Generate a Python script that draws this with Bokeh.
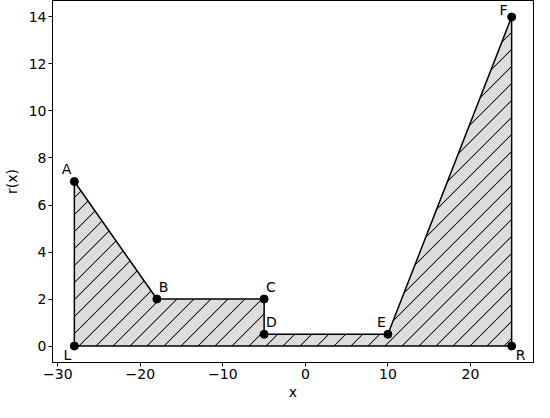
import base64, struct, zlib
from bokeh.plotting import figure
from bokeh.embed import file_html
from bokeh.resources import INLINE
from bokeh.models import Range1d, FixedTicker, ColumnDataSource, ImageURLTexture
from bokeh.core.properties import value

names = ["L", "A", "B", "C", "D", "E", "F", "R"]
xs = [-28, -28, -18, -5, -5, 10, 25, 25]
ys = [0, 7, 2, 2, 0.5, 0.5, 14, 0]
# label placement: (x_offset px, y_offset px, align, baseline)
lab_dx = [-3, -3, 2, 2, 2, -2, -4, 4]
lab_dy = [1, -5, -4, -4, -4, -4, 1, 1]
lab_align = ["right", "right", "left", "left", "left", "right", "right", "left"]
lab_base = ["top", "bottom", "bottom", "bottom", "bottom", "bottom", "bottom", "top"]

x_ticks = [-30, -20, -10, 0, 10, 20]
y_ticks = [0, 2, 4, 6, 8, 10, 12, 14]

FONT = "DejaVu Sans"


def hatch_tile_png(n):
    """45-degree '/' hatch tile as a transparent PNG data URL."""
    rows = []
    for y in range(n):
        row = bytearray([0])
        for x in range(n):
            d = (x + y - (n - 1)) % n
            if d == 0:
                a = 230
            elif d in (1, n - 1):
                a = 40
            else:
                a = 0
            row += bytes([0, 0, 0, a])
        rows.append(bytes(row))
    raw = b"".join(rows)

    def chunk(tag, data):
        c = struct.pack(">I", len(data)) + tag + data
        return c + struct.pack(">I", zlib.crc32(tag + data) & 0xffffffff)

    png = b"\x89PNG\r\n\x1a\n"
    png += chunk(b"IHDR", struct.pack(">IIBBBBB", n, n, 8, 6, 0, 0, 0))
    png += chunk(b"IDAT", zlib.compress(raw))
    png += chunk(b"IEND", b"")
    return "data:image/png;base64," + base64.b64encode(png).decode()


p = figure(width=534, height=402, output_backend="svg", toolbar_location=None,
           x_range=Range1d(-30.65, 27.65), y_range=Range1d(-0.7, 14.7),
           min_border_left=44, min_border_right=1, min_border_top=0, min_border_bottom=0)
p.xgrid.visible = False
p.ygrid.visible = False
p.outline_line_color = "black"
p.outline_line_width = 1
p.background_fill_color = "white"
p.border_fill_color = "white"

for ax in (p.xaxis[0], p.yaxis[0]):
    ax.major_label_text_font = FONT
    ax.major_label_text_font_size = "14px"
    ax.major_label_text_color = "black"
    ax.major_label_standoff = 2
    ax.axis_label_text_font = FONT
    ax.axis_label_text_font_size = "14px"
    ax.axis_label_text_font_style = "normal"
    ax.axis_label_text_color = "black"
    ax.axis_label_standoff = 2
    ax.minor_tick_line_color = None
    ax.major_tick_out = 4
    ax.major_tick_in = 0
    ax.major_tick_line_color = "black"
    ax.axis_line_color = "black"
p.yaxis.axis_label_standoff = 6
p.xaxis.ticker = FixedTicker(ticks=x_ticks)
p.yaxis.ticker = FixedTicker(ticks=y_ticks)
p.xaxis.axis_label = "x"
p.yaxis.axis_label = "r(x)"
p.xaxis.major_label_overrides = {t: ("\u2212" + str(-t) if t < 0 else str(t)) for t in x_ticks}

diag = ImageURLTexture(url=hatch_tile_png(17))

p.patch(xs, ys, fill_color="#dddddd", line_color="black", line_width=1.5,
        hatch_pattern="diag", hatch_extra={"diag": diag},
        hatch_color="black", hatch_scale=17, hatch_weight=1)

src = ColumnDataSource(dict(x=xs, y=ys, name=names, dx=lab_dx, dy=lab_dy,
                            align=lab_align, base=lab_base))
p.scatter("x", "y", source=src, size=8, color="black")
p.text("x", "y", text="name", source=src, x_offset="dx", y_offset="dy",
       text_align="align", text_baseline="base", text_font=value(FONT),
       text_font_size="14px", text_color="black")

open("out.html", "w").write(file_html(p, INLINE))
